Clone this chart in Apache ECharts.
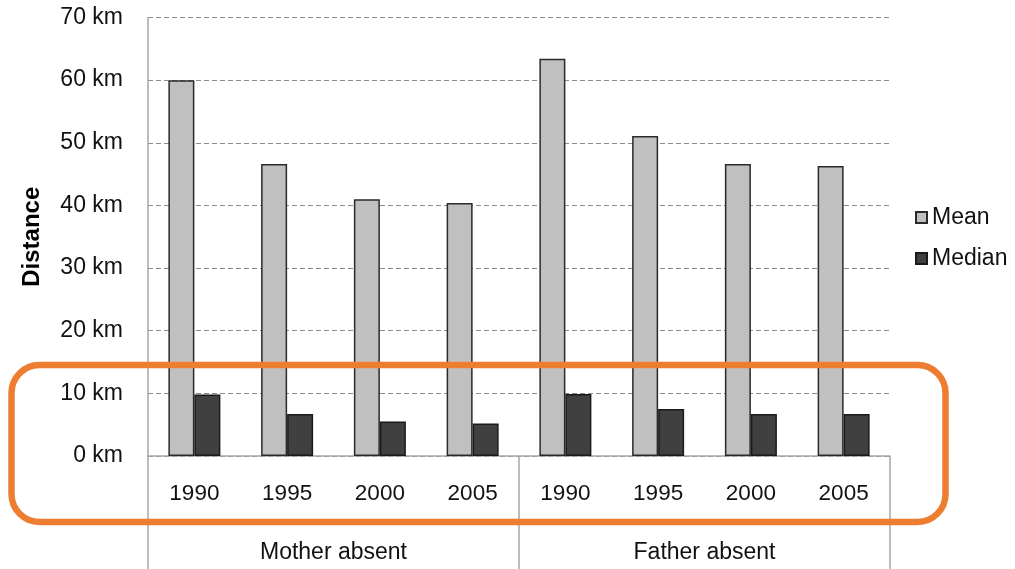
<!DOCTYPE html>
<html>
<head>
<meta charset="utf-8">
<script src="https://cdn.jsdelivr.net/npm/echarts@6/dist/echarts.min.js"></script>
<style>
  html, body { margin: 0; padding: 0; background: #fff; }
  #chart { width: 1015px; height: 569px; }
</style>
</head>
<body>
<div id="chart"></div>
<script>
const years = ['1990', '1995', '2000', '2005', '1990', '1995', '2000', '2005']
const groups = ['Mother absent', 'Father absent']
const meanValues = [60, 46.6, 41.0, 40.4, 63.4, 51.1, 46.6, 46.3]
const medianValues = [9.8, 6.7, 5.5, 5.2, 9.9, 7.5, 6.7, 6.7]
const seriesNames = ['Mean', 'Median']

const font = 'Liberation Sans, Arial, sans-serif'
const chart = echarts.init(document.getElementById('chart'))

chart.setOption({
  animation: false,
  grid: {
    left: 148,
    right: 125,
    top: 17.5,
    bottom: 113
  },
  legend: {
    orient: 'vertical',
    left: 910,
    top: 201,
    icon: 'rect',
    itemWidth: 11,
    itemHeight: 11,
    itemGap: 18,
    data: seriesNames,
    textStyle: { fontFamily: font, fontSize: 23, color: '#111' }
  },
  xAxis: [{
    type: 'category',
    data: years,
    position: 'bottom',
    axisLine: { show: true, lineStyle: { color: '#a6a6a6', width: 1.5 } },
    axisTick: { show: false },
    axisLabel: { margin: 26, fontFamily: font, fontSize: 22.5, color: '#111' }
  }, {
    type: 'category',
    data: groups,
    position: 'bottom',
    axisLine: { show: false },
    axisTick: { show: true, length: 113, lineStyle: { color: '#a6a6a6', width: 1.5 } },
    axisLabel: { margin: 85, fontFamily: font, fontSize: 23, color: '#111' }
  }],
  yAxis: {
    type: 'value',
    min: 0,
    max: 70,
    interval: 10,
    name: 'Distance',
    nameLocation: 'middle',
    nameGap: 104,
    nameTextStyle: { fontFamily: font, fontSize: 24, fontWeight: 'bold', color: '#000' },
    axisLine: { show: true, lineStyle: { color: '#a6a6a6', width: 1.5 } },
    axisTick: { show: false },
    axisLabel: {
      margin: 25,
      fontFamily: font,
      fontSize: 23,
      color: '#111',
      formatter: '{value} km'
    },
    splitLine: { lineStyle: { type: [5, 3], color: '#8c8c8c', width: 1.2 } }
  },
  series: [{
    name: seriesNames[0],
    type: 'bar',
    data: meanValues,
    barWidth: 26,
    barGap: '0%',
    itemStyle: { color: '#c0c0c0', borderColor: '#2a2a2a', borderWidth: 1.5 }
  }, {
    name: seriesNames[1],
    type: 'bar',
    data: medianValues,
    barWidth: 26,
    barGap: '0%',
    itemStyle: { color: '#404040', borderColor: '#1a1a1a', borderWidth: 1.5 }
  }],
  graphic: [{
    type: 'rect',
    shape: { x: 11.5, y: 365, width: 934, height: 157, r: 28 },
    style: { fill: 'none', stroke: '#ed7d31', lineWidth: 6.5 },
    z: 100
  }]
})
</script>
</body>
</html>
